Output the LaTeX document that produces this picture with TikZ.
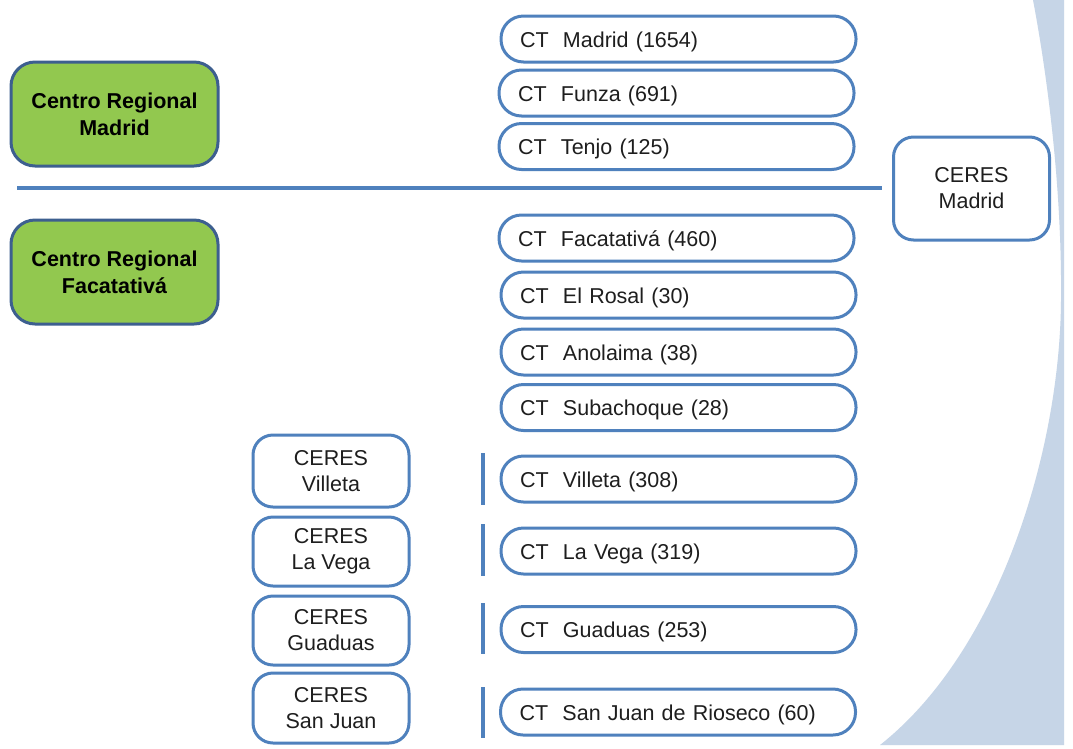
\documentclass[tikz,border=0pt]{standalone}
\usepackage{fontspec}
\setmainfont{Liberation Sans}
\definecolor{ctblue}{HTML}{4F81BD}
\definecolor{greenfill}{HTML}{92C84F}
\definecolor{greenedge}{HTML}{3D5F8F}
\definecolor{bgblue}{HTML}{C6D5E7}
\definecolor{txt}{HTML}{1E1E1E}
\tikzset{
  ctbox/.style={draw=ctblue, line width=3pt, fill=white, rounded corners=22.5pt,
    minimum width=355pt, minimum height=46pt, text width=317pt, align=left,
    inner xsep=19pt, inner ysep=0pt, text=txt, text depth=0pt, text height=16pt,
    font=\fontsize{21.5}{26}\selectfont},
  ceresbox/.style={draw=ctblue, line width=3pt, fill=white, rounded corners=20pt,
    minimum width=156pt, align=center, inner sep=0pt, text=txt,
    font=\fontsize{21.5}{26}\selectfont},
  regbox/.style={draw=greenedge, line width=3pt, fill=greenfill, rounded corners=24pt,
    minimum width=207pt, minimum height=104pt, align=center, inner sep=0pt, text=black,
    font=\bfseries\fontsize{21.5}{27}\selectfont},
  sepline/.style={draw=ctblue, line width=4pt},
  bar/.style={draw=ctblue, line width=3.5pt}
}
\begin{document}
\begin{tikzpicture}[x=1pt,y=-1pt]
\useasboundingbox (0,0) rectangle (1073,748);
\fill[white] (0,0) rectangle (1073,748);
% background curved band
\fill[bgblue] (1033,0) .. controls (1050,90) and (1062,200) .. (1061,300)
  .. controls (1060,450) and (1000,650) .. (880,745) -- (1064,745) -- (1064,0) -- cycle;

% regional centres
\node[regbox] (rm) at (114.5,114) {Centro Regional\\Madrid};
\node[regbox] (rf) at (114.5,272) {Centro Regional\\Facatativá};

% separator
\coordinate (sl) at (17,188);
\coordinate (sr) at (882,188);
\draw[sepline] (sl) -- (sr);

% CERES Madrid
\node[ceresbox, minimum height=103pt] (cm) at (971.5,188.5) {CERES\\Madrid};

% CT boxes
\node[ctbox] (ct1) at (678.5,39) {CT\ \ Madrid (1654)};
\node[ctbox] (ct2) at (676.5,93) {CT\ \ Funza (691)};
\node[ctbox] (ct3) at (676.5,146.5) {CT\ \ Tenjo (125)};
\node[ctbox] (ct4) at (676.5,238) {CT\ \ Facatativá (460)};
\node[ctbox] (ct5) at (678.5,295) {CT\ \ El Rosal (30)};
\node[ctbox] (ct6) at (678.5,352) {CT\ \ Anolaima (38)};
\node[ctbox] (ct7) at (678.5,407.5) {CT\ \ Subachoque (28)};
\node[ctbox] (ct8) at (678.5,479) {CT\ \ Villeta (308)};
\node[ctbox] (ct9) at (678.5,551) {CT\ \ La Vega (319)};
\node[ctbox] (ct10) at (678.5,629.5) {CT\ \ Guaduas (253)};
\node[ctbox] (ct11) at (678,712) {CT\ \ San Juan de Rioseco (60)};

% CERES local boxes
\node[ceresbox, minimum height=72pt] (c1) at (331,471) {CERES\\Villeta};
\node[ceresbox, minimum height=69pt] (c2) at (331,551.5) {CERES\\La Vega};
\node[ceresbox, minimum height=69pt] (c3) at (331,630.5) {CERES\\Guaduas};
\node[ceresbox, minimum height=70pt] (c4) at (331,708) {CERES\\San Juan};

% vertical bars
\coordinate (b1t) at (483,453); \coordinate (b1b) at (483,505);
\coordinate (b2t) at (483,524); \coordinate (b2b) at (483,576);
\coordinate (b3t) at (483,603); \coordinate (b3b) at (483,654);
\coordinate (b4t) at (483,687); \coordinate (b4b) at (483,738);
\draw[bar] (b1t) -- (b1b);
\draw[bar] (b2t) -- (b2b);
\draw[bar] (b3t) -- (b3b);
\draw[bar] (b4t) -- (b4b);
\end{tikzpicture}
\end{document}
